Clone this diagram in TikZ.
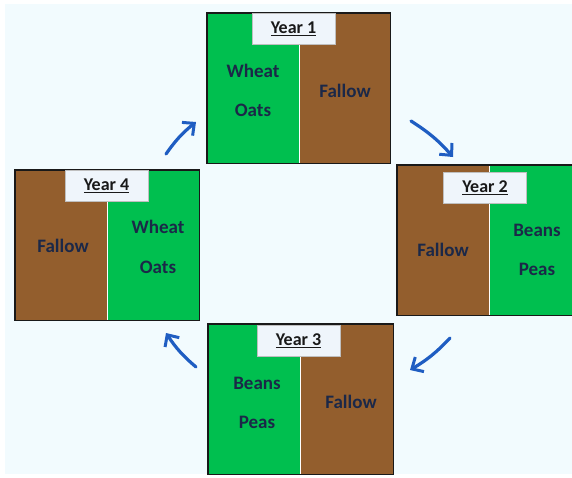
\documentclass[tikz,border=0pt]{standalone}
\usepackage{fontspec}
\setmainfont{Carlito}
\usetikzlibrary{arrows.meta}
\definecolor{sky}{HTML}{F2FBFE}
\definecolor{crop}{HTML}{00BF4F}
\definecolor{soil}{HTML}{935E2D}
\definecolor{ink}{HTML}{1B2848}
\definecolor{tagfill}{HTML}{EFF5FB}
\definecolor{flowblue}{HTML}{1F5DC2}
\tikzset{
  half/.style={rectangle, inner sep=0pt, anchor=north west, minimum width=#1, minimum height=150},
  green half/.style={half=#1, fill=crop},
  brown half/.style={half=#1, fill=soil},
  frame/.style={draw=black!90, line width=1.6pt},
  split/.style={draw=white, line width=1.4pt},
  yeartag/.style={rectangle, fill=tagfill, draw=black!25, line width=0.5pt,
    minimum width=83, minimum height=31, inner sep=0pt, anchor=north,
    font=\bfseries\fontsize{18}{20}\selectfont, text=black!90},
  cropname/.style={font=\bfseries\fontsize{19}{21}\selectfont, text=ink},
  flow/.style={draw=flowblue, line width=3.2pt, line cap=round,
    -{Straight Barb[length=9pt, width=17pt, line width=3pt]}}
}
\begin{document}
\begin{tikzpicture}[x=1pt, y=-1pt]
  \useasboundingbox (0,0) rectangle (572,477);
  \fill[white] (0,0) rectangle (572,477);
  \fill[sky] (5,4) rectangle (572,474);
  \clip (0,0) rectangle (572,477);

  % Year 1: wheat/oats | fallow
  \node[green half=92] (y1l) at (207,13) {};
  \node[brown half=91] (y1r) at (299,13) {};
  \draw[split] (y1l.north east) -- (y1l.south east);
  \draw[frame] (y1l.north west) rectangle (y1r.south east);
  \node[yeartag] (t1) at (293.5,13) {\underline{Year 1}};
  \node[cropname] (w1) at (253,71) {Wheat};
  \node[cropname] (o1) at (253,110) {Oats};
  \node[cropname] (f1) at (345,91) {Fallow};

  % Year 2: fallow | beans/peas (runs past the right edge)
  \node[brown half=92] (y2l) at (397,165) {};
  \node[green half=100] (y2r) at (489,165) {};
  \draw[split] (y2l.north east) -- (y2l.south east);
  \draw[frame] (y2l.north west) rectangle (y2r.south east);
  \node[yeartag] (t2) at (485,172) {\underline{Year 2}};
  \node[cropname] (f2) at (443,250) {Fallow};
  \node[cropname] (b2) at (537,230) {Beans};
  \node[cropname] (p2) at (537,269) {Peas};

  % Year 3: beans/peas | fallow
  \node[green half=92] (y3l) at (208,324) {};
  \node[brown half=93] (y3r) at (300,324) {};
  \draw[split] (y3l.north east) -- (y3l.south east);
  \draw[frame] (y3l.north west) rectangle (y3r.south east);
  \node[yeartag] (t3) at (298.5,325) {\underline{Year 3}};
  \node[cropname] (b3) at (257,383) {Beans};
  \node[cropname] (p3) at (257,422) {Peas};
  \node[cropname] (f3) at (351,402) {Fallow};

  % Year 4: fallow | wheat/oats
  \node[brown half=92] (y4l) at (15,170) {};
  \node[green half=92] (y4r) at (107,170) {};
  \draw[split] (y4l.north east) -- (y4l.south east);
  \draw[frame] (y4l.north west) rectangle (y4r.south east);
  \node[yeartag] (t4) at (106.5,170) {\underline{Year 4}};
  \node[cropname] (f4) at (63,246) {Fallow};
  \node[cropname] (w4) at (158,227) {Wheat};
  \node[cropname] (o4) at (158,267) {Oats};

  % rotation arrows
  \coordinate (a1s) at (166,154);
  \coordinate (a1e) at (196,122);
  \coordinate (a2s) at (411,121);
  \coordinate (a2e) at (453,157);
  \coordinate (a3s) at (450,338);
  \coordinate (a3e) at (410,370);
  \coordinate (a4s) at (196,367);
  \coordinate (a4e) at (166,333);
  \draw[flow] (a1s) to[bend left=8] (a1e);
  \draw[flow] (a2s) to[bend left=8] (a2e);
  \draw[flow] (a3s) to[bend left=8] (a3e);
  \draw[flow] (a4s) to[bend left=8] (a4e);
\end{tikzpicture}
\end{document}
